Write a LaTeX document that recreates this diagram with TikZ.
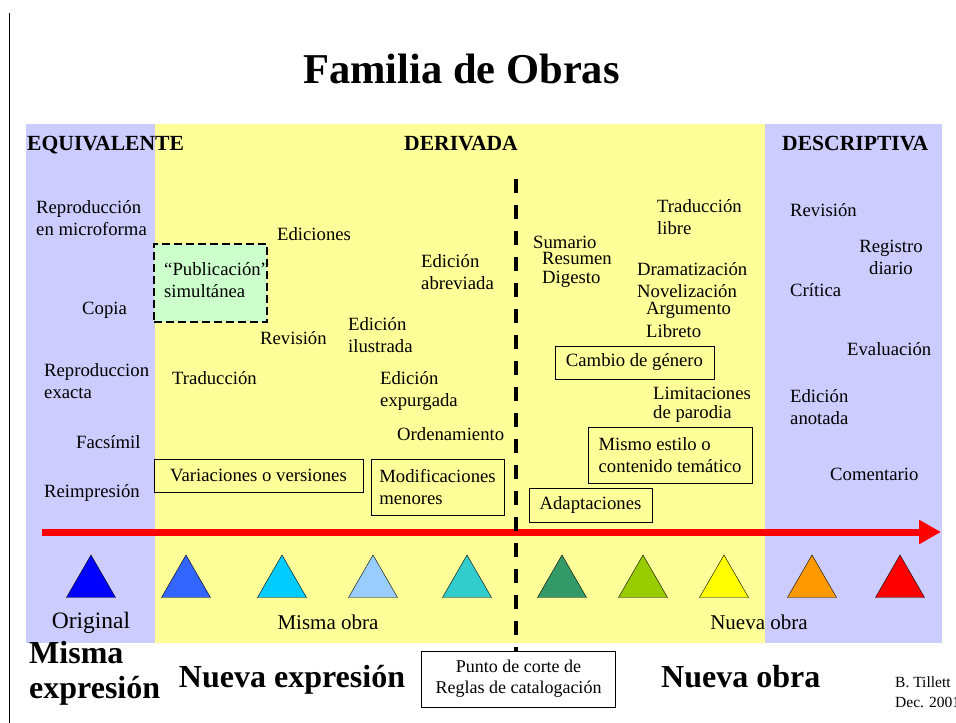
\documentclass[tikz,border=0pt]{standalone}
\usepackage{fontspec}
\setmainfont{Liberation Serif}
\usetikzlibrary{arrows.meta,shapes.geometric}

\definecolor{lavender}{HTML}{CCCCFF}
\definecolor{paleyellow}{HTML}{FFFF99}
\definecolor{palegreen}{HTML}{CCFFCC}
\definecolor{c1}{HTML}{0000FF}
\definecolor{c2}{HTML}{3366FF}
\definecolor{c3}{HTML}{00CCFF}
\definecolor{c4}{HTML}{99CCFF}
\definecolor{c5}{HTML}{33CCCC}
\definecolor{c6}{HTML}{339966}
\definecolor{c7}{HTML}{99CC00}
\definecolor{c8}{HTML}{FFFF00}
\definecolor{c9}{HTML}{FF9900}
\definecolor{c10}{HTML}{FF0000}

\tikzstyle{item} = [font=\fontsize{18.7}{22}\selectfont, inner sep=0pt, anchor=west, align=left]
\tikzstyle{heading} = [font=\fontsize{21.6}{25}\selectfont\bfseries, inner sep=0pt]
\tikzstyle{framebox} = [draw, line width=0.8pt, fill=paleyellow, inner sep=0pt, align=left, font=\fontsize{18.7}{22}\selectfont]
\tikzstyle{marker} = [regular polygon, regular polygon sides=3, draw=black, thin, minimum size=56.6pt, inner sep=0pt]
\tikzstyle{cutline} = [draw, line width=4.5pt, dash pattern=on 14pt off 12pt]
\tikzstyle{timeline} = [draw, red, line width=7pt, -{Triangle[length=22pt,width=23pt]}]
\tikzstyle{bigtext} = [font=\fontsize{32}{36}\selectfont\bfseries, inner sep=0pt]

\begin{document}
\begin{tikzpicture}[x=1pt,y=-1pt]
  \useasboundingbox (0,0) rectangle (956,723);
  %background
  \fill[lavender] (26,124) rectangle (155,643);
  \fill[paleyellow] (155,124) rectangle (765,643);
  \fill[lavender] (765,124) rectangle (942,643);
  \draw[line width=0.8pt] (9,13) -- (9,723);
  \node[font=\fontsize{42.5}{50}\selectfont\bfseries, anchor=base, inner sep=0pt] (title) at (461.5,83) {Familia de Obras};
  \node[heading, anchor=base west] (equiv) at (27,150) {EQUIVALENTE};
  \node[heading, anchor=base east] (deriv) at (518,150) {DERIVADA};
  \node[heading, anchor=base west] (descr) at (782,150) {DESCRIPTIVA};
  %nodes
  \node[draw, dash pattern=on 8pt off 4pt, line width=1.3pt, fill=palegreen, minimum width=113pt, minimum height=78pt] (pub) at (210.5,283) {};
  \node[item] (pubtxt) at (164,280) {“Publicación”\\simultánea};
  \foreach \name/\x/\y/\text in {
    repmicro/36/218/Reproducción\\en microforma,
    copia/82/310/Copia,
    repexacta/44/381/Reproduccion\\exacta,
    facsimil/76/442/Facsímil,
    reimpresion/44/493/Reimpresión,
    ediciones/277/234/Ediciones,
    revision/260/338/Revisión,
    traduccion/172/378/Traducción,
    ilustrada/348/335/Edición\\ilustrada,
    abreviada/421/272/Edición\\abreviada,
    expurgada/380/391/Edición\\expurgada,
    ordenamiento/397/434/Ordenamiento,
    sumario/533/242/Sumario,
    resumen/542/258/Resumen,
    digesto/542/279/Digesto,
    libre/657/217/Traducción\\libre,
    dramatizacion/637/269/Dramatización,
    novelizacion/637/291/Novelización,
    argumento/646/310/Argumento,
    libreto/646/331/Libreto,
    parodia/653/405/Limitaciones\\[-3pt]de parodia,
    revdesc/790/210/Revisión,
    critica/790/290/Crítica,
    evaluacion/847/349/Evaluación,
    anotada/790/407/Edición\\anotada,
    comentario/830/474/Comentario}
  {
    \node[item] (\name) at (\x,\y) {\text};
  };
  \node[item, anchor=center, align=center] (registro) at (891,257) {Registro\\diario};
  \foreach \name/\x/\y/\w/\h/\text in {
    variaciones/258.5/475.5/209/33/Variaciones o versiones,
    modificaciones/437.5/487/133/56/Modificaciones\\menores,
    cambio/634.5/362.5/159/33/Cambio de género,
    estilo/670/455/164/56/Mismo estilo o\\contenido temático,
    adaptaciones/590.5/505/123/34/Adaptaciones}
  {
    \node[framebox, minimum width=\w pt, minimum height=\h pt] (\name) at (\x,\y) {\text};
  };
  %axis
  \coordinate (axisL) at (42,532);
  \coordinate (axisR) at (941,532);
  \path[timeline] (axisL) -- (axisR);
  \foreach \i/\x in {1/91, 2/186, 3/282, 4/373, 5/467, 6/562, 7/643, 8/724, 9/812, 10/900}
  {
    \node[marker, fill=c\i] (t\i) at (\x,583.3) {};
  };
  \node[font=\fontsize{23.5}{27}\selectfont, inner sep=0pt] (original) at (91,623) {Original};
  \node[font=\fontsize{21}{25}\selectfont, inner sep=0pt] (misma) at (328,622) {Misma obra};
  \node[font=\fontsize{21}{25}\selectfont, inner sep=0pt] (nueva) at (759,622) {Nueva obra};
  %bottom
  \node[framebox, fill=white, align=center, minimum width=194pt, minimum height=56pt, font=\fontsize{18}{21}\selectfont] (corte) at (518.5,679) {Punto de corte de\\Reglas de catalogación};
  \coordinate (cut) at (516,179);
  \path[cutline] (cut) -- (cut |- corte.north);
  \node[bigtext, anchor=base west] (mismaexp1) at (29,663) {Misma};
  \node[bigtext, anchor=base west] (mismaexp2) at (29,698) {expresión};
  \node[bigtext, anchor=base] (nuevaexp) at (292,687) {Nueva expresión};
  \node[bigtext, anchor=base west] (nuevaobra) at (661,687) {Nueva obra};
  \node[font=\fontsize{15.5}{19}\selectfont, anchor=base west, inner sep=0pt] (autor) at (895,687) {B. Tillett};
  \node[font=\fontsize{15.5}{19}\selectfont, anchor=base west, inner sep=0pt] (fecha) at (895,707) {Dec. 2001};
\end{tikzpicture}
\end{document}
